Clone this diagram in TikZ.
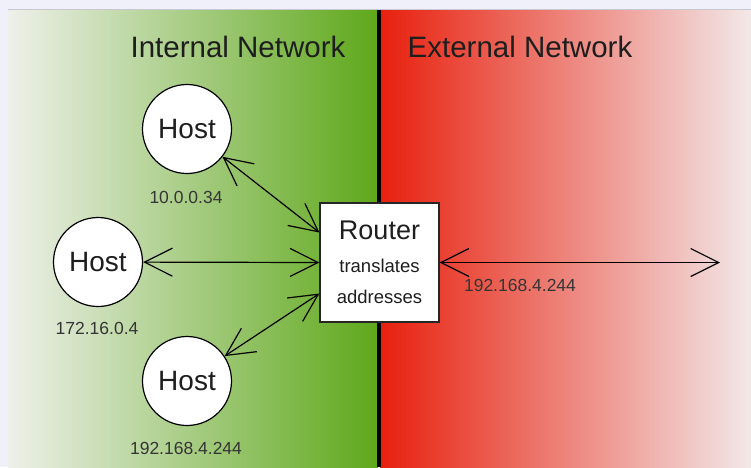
\documentclass[tikz,border=0pt]{standalone}
\usepackage{fontspec}
\setmainfont{Liberation Sans}
\usetikzlibrary{arrows.meta}

\definecolor{pagebg}{HTML}{F0F0FA}
\definecolor{edgegray}{HTML}{C8C8D2}
\definecolor{inpale}{HTML}{EEF0EA}
\definecolor{ingreen}{HTML}{5EA81A}
\definecolor{exred}{HTML}{E8200E}
\definecolor{expale}{HTML}{F2E8E8}
\definecolor{inktext}{HTML}{1E1E1E}

\begin{document}
\begin{tikzpicture}[x=1pt,y=-1pt,
    host/.style={circle,draw=black,fill=white,line width=1.2pt,
      minimum size=89pt,inner sep=0pt,text=inktext,
      font=\fontsize{28}{32}\selectfont},
    router/.style={rectangle,draw=black!85,fill=white,line width=1.2pt,
      minimum width=119pt,minimum height=119pt,inner sep=0pt,
      align=center,text=inktext,font=\fontsize{18.5}{31}\selectfont},
    title/.style={text=inktext,font=\fontsize{29.5}{33}\selectfont},
    ip/.style={text=inktext!90,font=\fontsize{17.5}{20}\selectfont},
    link/.style={{Straight Barb[length=28pt,width=28pt]}-{Straight Barb[length=28pt,width=28pt]},
      line width=1.2pt}]
  \useasboundingbox (0,0) rectangle (751,467);
  % page and the two shaded halves
  \fill[pagebg] (0,0) rectangle (751,467);
  \shade[left color=inpale,right color=ingreen] (8,10) rectangle (378,467);
  \shade[left color=exred,right color=expale] (380,10) rectangle (751,467);
  \draw[edgegray,line width=1pt] (8,9.5) -- (751,9.5);
  % divider between the networks
  \draw[line width=4pt] (379,10) -- (379,467);

  % titles
  \node[title] (intitle) at (238,47) {Internal Network};
  \node[title] (extitle) at (520,47) {External Network};

  % hosts on the internal side
  \node[host] (h1) at (187,129) {Host};
  \node[host] (h2) at (98,262) {Host};
  \node[host] (h3) at (187,381) {Host};
  \node[ip] (ip1) at (186,197) {10.0.0.34};
  \node[ip] (ip2) at (97,328) {172.16.0.4};
  \node[ip] (ip3) at (186,448) {192.168.4.244};

  % router sitting on the divider
  \node[router] (rt) at (379.5,262.5)
    {{\fontsize{27}{30}\selectfont Router}\\[2pt]translates\\addresses};

  % links
  \draw[link] (h1) -- ([yshift=30pt]rt.west);
  \draw[link] (h2) -- (rt.west);
  \draw[link] (h3) -- ([yshift=-31pt]rt.west);
  \coordinate (outer) at (720,262.5);
  \draw[link] (rt.east) -- (outer);
  \node[ip] (ipx) at (520,285) {192.168.4.244};
\end{tikzpicture}
\end{document}
